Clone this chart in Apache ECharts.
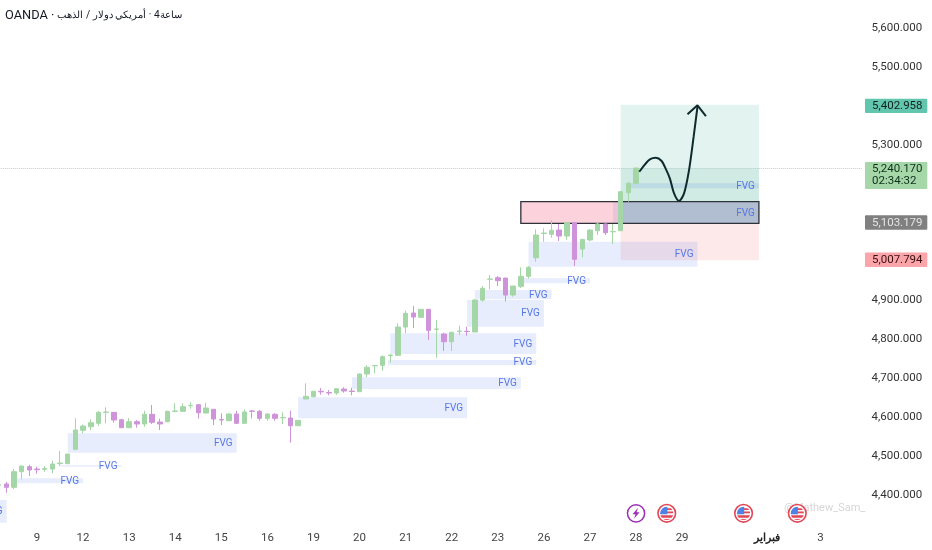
<!DOCTYPE html>
<html>
<head>
<meta charset="utf-8">
<style>html,body{margin:0;padding:0;background:#fff}#c{width:932px;height:550px}</style>
<script src="https://cdn.jsdelivr.net/npm/echarts@6/dist/echarts.min.js"></script>
</head>
<body>
<div id="c"></div>
<script>
// [open, close, low, high]
const candles = [
[4425,4426.5,4420.6,4429.6],[4428.3,4419.8,4405.9,4434.2],[4419.8,4459.9,4415.5,4466.8],[4459.9,4474.6,4440.4,4474.6],
[4472.8,4464.3,4448.9,4477.9],[4466.8,4465.1,4454.8,4472.8],[4466.1,4468.1,4459.9,4474.6],[4466.8,4479.7,4455.8,4488.2],
[4480.7,4482.3,4474.6,4513.1],[4480.5,4505.4,4480.5,4505.4],[4517.5,4567.1,4515.7,4597.1],[4566.3,4577.3,4558.6,4580.7],
[4575.5,4585.8,4567.1,4594.5],[4584.3,4612.5,4577.3,4615.9],[4612.5,4613.3,4584.3,4625.4],[4612.5,4592.8,4585.8,4613.3],
[4593.5,4573,4573,4596.1],[4573,4588.4,4573,4597.9],[4588.4,4582.5,4573,4592.8],[4582.5,4607.4,4575.5,4616.6],
[4607.4,4586.8,4582.5,4631.3],[4587.6,4582.5,4567.1,4596.1],[4588.4,4615.1,4586.8,4616.6],[4615.1,4615.9,4612.5,4635.7],
[4615.1,4626.9,4615.1,4635.7],[4629.5,4630.5,4621.8,4638.2],[4632.1,4611.5,4596.1,4633.9],[4610.7,4623.6,4610.7,4637.2],
[4620.2,4595.3,4579.9,4620.2],[4594,4592.8,4579.9,4610],[4591,4608.2,4591,4610],[4608.2,4584.3,4582.5,4616.6],
[4584.3,4613.3,4582.5,4620.2],[4615.9,4615.1,4597.1,4618.4],[4615.1,4597.1,4591,4618.4],[4597.1,4608.2,4591,4610],
[4607.4,4597.1,4591,4610],[4598.4,4599.1,4582.5,4612.5],[4597.9,4578.1,4534.4,4616.6],[4578.1,4592,4578.1,4592],
[4646.7,4653.6,4646.7,4687],[4652.6,4666.5,4651.1,4668],[4666.5,4665.2,4657.8,4675],[4663.4,4662.1,4656.2,4669.8],
[4662.1,4673.2,4657.8,4673.2],[4672.4,4667.3,4662.9,4676.8],[4667.3,4666,4656.2,4675.7],[4665.5,4710.9,4665.5,4711.7],
[4710.9,4728.2,4702.5,4733.3],[4732,4732.8,4712.7,4734.1],[4733.3,4755.4,4719.4,4759],[4758.5,4759.8,4740,4762.3],
[4759,4831.7,4757.2,4841.2],[4831.7,4866.9,4815.5,4873.6],[4867.7,4857.4,4829.1,4885.7],[4856.6,4877.2,4854.8,4878],
[4877.2,4823.2,4798.3,4877.2],[4825.8,4826.6,4752.8,4849.7],[4813.7,4793.9,4770,4817.1],[4793.9,4818.1,4770,4819.6],
[4820.1,4821.4,4811.2,4835],[4820.7,4820.1,4809.4,4832.5],[4818.9,4901.1,4818.9,4903.6],[4901.1,4931.1,4896.7,4937.1],
[4954.3,4955,4928.6,4965.3],[4958.4,4950.7,4937.1,4962.7],[4957.6,4913.9,4897.7,4957.6],[4913.9,4937.1,4909.6,4937.1],
[4936.3,4962,4931.9,4985.1],[4962,4985.1,4955.8,4988.4],[5009.8,5068.1,4999.5,5082.7],[5071.9,5073.2,5050.9,5085.3],
[5069.9,5080.2,5061.1,5106.6],[5080.9,5065.5,5052.7,5096.4],[5065.5,5099.7,5055.2,5101.5],[5099.7,5005.6,4988.4,5101.5],
[5032.1,5057,5010.8,5057.8],[5055.2,5080.9,5051.9,5082.7],[5079.1,5096.4,5068.1,5099.7],[5096.4,5074,5068.1,5098.2],
[5076.3,5077.1,5045,5096.4],[5079.1,5179.3,5078.4,5181.1],[5176.8,5200.9,5153.7,5204.3],[5200.9,5240.17,5199.1,5241]
];
const slotCount = 113;
const tickIndex = [5,11,17,23,29,35,41,47,53,59,65,71,77,83,89,100,107];
const tickLabels = ['9','12','13','14','15','16','19','20','21','22','23','26','27','28','29','فبراير','3'];
const priceHidden = [4300,5000,5100,5200,5400,5700];
const currentPrice = 5240.17;
// [barFrom, barTo, priceTop, priceBottom]
const fvgBoxes = [
[-1,1.05,4387.2,4328.9],[2,11,4443,4430.1],[8,16,4476.4,4472.8],[9,31,4558.6,4508.8],
[39,61,4651.1,4597.1],[46,68,4702.5,4672.4],[50.7,70,4747,4734.1],[51,70,4815.5,4762.3],
[61,71,4901.1,4832.5],[62,72,4926.8,4902.8],[68,77,4956.8,4944],[69,91,5050.9,4986.6],
[82,99,5200.9,5188],[80,99,5153.7,5098.2]
];
const targetZone = [[81,99,5402.958,currentPrice],[81,99,currentPrice,5103.179]];
const stopZone = [[81,99,5103.179,5003.5]];
const supplyZone = [[68,81,5153.7,5098.2],[81,99,5153.7,5098.2]];
const supplyFrame = [[68,99,5153.7,5098.2]];
const curvePoints = [[83.42,5230.7],[84.2,5250.5],[84.8,5262.6],[85.56,5266.7],[86.3,5259],[86.9,5236.9],[87.4,5213.8],[87.95,5175.2],[88.6,5155.5],[89.25,5175.2],[89.9,5235],[90.5,5320.7],[91,5397.7]];
const arrowPoints = [[89.7,5378.2],[91,5401.3],[92.1,5373.8]];
const tagPrices = [5402.958,5240.17,5103.179,5007.794];
const tagTexts = ['5,402.958','5,240.170','5,103.179','5,007.794'];
const tagSub = ['','02:34:32','',''];
const tagFill = ['#62c6ae','#a6d7a8','#808080','#fba4a9'];
const tagInk = ['#10201c','#10301a','#e4e4e4','#3a1012'];
const eventIdx = [83,87,97,104];
const eventKind = ['bolt','flag','flag','flag'];
const eventPrice = 4353;

const chart = echarts.init(document.getElementById('c'), null, {renderer:'canvas'});
const FONT = 'Roboto, "Noto Sans", sans-serif';

function rectRender(colorOf, stroke) {
  return function (params, api) {
    const a = api.coord([api.value(0), api.value(2)]);
    const b = api.coord([api.value(1), api.value(3)]);
    const el = {type:'rect', shape:{x:a[0], y:a[1], width:b[0]-a[0], height:b[1]-a[1]},
      style:{fill: colorOf(params.dataIndex), stroke: stroke||null, lineWidth: stroke?1.3:0}};
    return el;
  };
}
function boxSeries(name, data, colorOf, z, stroke) {
  return {name, type:'custom', xAxisIndex:1, yAxisIndex:0, z, silent:true, clip:false,
    encode:{x:[0,1], y:[2,3]}, data, renderItem:rectRender(colorOf, stroke)};
}
function tickFormatter(v){ return priceHidden.includes(+v) ? '' : (+v).toLocaleString('en-US',{minimumFractionDigits:3,maximumFractionDigits:3}); }

const categories = Array.from({length:slotCount},(_, i)=>{ const t=tickIndex.indexOf(i); return t>=0?tickLabels[t]:''; });

chart.setOption({
  animation:false,
  backgroundColor:'#ffffff',
  title:{text:'{a|OANDA · }{b|الذهب}{b| / }{b|دولار}{b| }{b|أمريكي}{b| · 4ساعة}', left:0, top:4,
    textStyle:{fontWeight:'normal', rich:{a:{fontFamily:FONT, fontWeight:'normal', fontSize:12.8, color:'#131722'}, b:{fontFamily:FONT, fontWeight:'normal', fontSize:10.2, color:'#131722'}}}},
  grid:{left:-5.24, width:867.84, top:-10.92, height:544.88, containLabel:false, outerBoundsMode:'none'},
  xAxis:[
    {type:'category', data:categories, boundaryGap:true, axisLine:{show:false}, axisTick:{show:false}, splitLine:{show:false},
      axisLabel:{interval:(i)=>tickIndex.includes(i), margin:-2, fontFamily:FONT, fontSize:11.5, color:'#444',
        hideOverlap:false,
        formatter:(v)=>v==='فبراير'?'{b|'+v+'}':v, rich:{b:{fontWeight:'bold', color:'#222', fontFamily:'"Noto Sans", sans-serif', fontSize:11}}}},
    {type:'value', min:-0.5, max:slotCount-0.5, show:false, splitLine:{show:false}}
  ],
  yAxis:{type:'value', position:'right', min:4300, max:5700, interval:100, scale:false,
    axisLine:{show:false}, axisTick:{show:false}, splitLine:{show:false},
    axisLabel:{margin:9, padding:[2,0,0,0], fontFamily:FONT, fontSize:11.5, color:'#333', formatter:tickFormatter, showMinLabel:true, showMaxLabel:true}},
  graphic:[{type:'text', left:784, top:503, z:1, silent:true,
    style:{text:'@Mathew_Sam_', fontFamily:FONT, fontSize:11, fill:'#d6d6d6'}}],
  series:[
    boxSeries('target', targetZone, (i)=>i===0?'rgba(38,166,134,0.13)':'rgba(38,166,134,0.22)', 1),
    boxSeries('stop', stopZone, ()=>'rgba(244,70,80,0.12)', 1),
    {name:'fvg', type:'custom', xAxisIndex:1, yAxisIndex:0, z:2, silent:true, clip:false, encode:{x:[0,1], y:[2,3]}, data:fvgBoxes,
      renderItem(params, api){
        const a = api.coord([api.value(0), api.value(2)]);
        const b = api.coord([api.value(1), api.value(3)]);
        return {type:'rect', shape:{x:a[0], y:a[1], width:b[0]-a[0], height:Math.max(b[1]-a[1],1)},
          style:{fill:'rgba(58,104,235,0.12)'}};
      }},
    boxSeries('supply', supplyZone, (i)=>i===0?'rgba(244,60,110,0.23)':'rgba(175,185,205,0.9)', 3),
    boxSeries('frame', supplyFrame, ()=>'rgba(0,0,0,0)', 4, '#2f3238'),
    {name:'fvgLabels', type:'custom', xAxisIndex:1, yAxisIndex:0, z:5, silent:true, clip:false, encode:{x:[0,1], y:[2,3]}, data:fvgBoxes,
      renderItem(params, api){
        const a = api.coord([api.value(1), (api.value(2)+api.value(3))/2]);
        return {type:'text', style:{x:a[0]-4, y:a[1]+0.5, text:'FVG', fill:'#5676e6', font:'10px '+FONT, textAlign:'right', textVerticalAlign:'middle'}};
      }},
    {name:'price', type:'candlestick', xAxisIndex:0, yAxisIndex:0, z:6, barWidth:5, data:candles,
      itemStyle:{color:'#a5d6a7', color0:'#ce93d8', borderColor:'#a5d6a7', borderColor0:'#ce93d8', borderWidth:1},
      markLine:{silent:true, symbol:'none', label:{show:false}, animation:false, data:[{yAxis:currentPrice}],
        lineStyle:{color:'#c4c8d0', type:'dotted', width:1}}},
    {name:'curve', type:'line', xAxisIndex:1, yAxisIndex:0, z:7, data:curvePoints, smooth:0.3, symbol:'none', silent:true,
      lineStyle:{color:'#0e2a2c', width:2}},
    {name:'arrow', type:'line', xAxisIndex:1, yAxisIndex:0, z:7, data:arrowPoints, symbol:'none', silent:true,
      lineStyle:{color:'#0e2a2c', width:2}},
    {name:'events', type:'custom', xAxisIndex:0, yAxisIndex:0, z:8, silent:true, clip:false, encode:{x:0, y:1},
      data:eventIdx.map((i)=>[i,eventPrice]),
      renderItem(params, api){
        const p = api.coord([api.value(0), api.value(1)]);
        if (eventKind[params.dataIndex]==='bolt') {
          return {type:'group', x:p[0], y:p[1], children:[
            {type:'circle', shape:{cx:0,cy:0,r:8.6}, style:{fill:'#fff', stroke:'#9c2fb5', lineWidth:1.5}},
            {type:'polygon', shape:{points:[[2,-5.5],[-3.5,1],[-0.5,1],[-2,5.5],[3.5,-1],[0.5,-1]]}, style:{fill:'#9c2fb5'}}
          ]};
        }
        const clip = {type:'circle', shape:{cx:0,cy:0,r:6.6}};
        return {type:'group', x:p[0], y:p[1], children:[
          {type:'circle', shape:{cx:0,cy:0,r:8.8}, style:{fill:'#fff', stroke:'#e34755', lineWidth:1.6}},
          {type:'group', clipPath:clip, children:[
            {type:'rect', shape:{x:-7,y:-7,width:14,height:14}, style:{fill:'#f4f4f6'}},
            {type:'rect', shape:{x:0,y:-5.2,width:7,height:1.8}, style:{fill:'#e34755'}},
            {type:'rect', shape:{x:0,y:-1.8,width:7,height:1.8}, style:{fill:'#e34755'}},
            {type:'rect', shape:{x:-7,y:2,width:14,height:2.4}, style:{fill:'#e34755'}},
            {type:'rect', shape:{x:-7,y:5.6,width:14,height:2}, style:{fill:'#e34755'}},
            {type:'rect', shape:{x:-7,y:-7,width:7.6,height:8}, style:{fill:'#4d82e6'}}
          ]}
        ]};
      }},
    {name:'tags', type:'custom', xAxisIndex:1, yAxisIndex:0, z:9, silent:true, clip:false, encode:{y:0},
      data:tagPrices.map((v)=>[v]),
      renderItem(params, api){
        const i = params.dataIndex;
        const y = api.coord([0, api.value(0)])[1];
        const two = !!tagSub[i];
        const top = y - 6.5 + 0.5, h = two ? 27 : 14.4;
        const kids = [{type:'rect', shape:{x:865, y:top, width:62.3, height:h, r:1}, style:{fill:tagFill[i]}},
          {type:'text', style:{x:872, y:top+7.3, text:tagTexts[i], fill:tagInk[i], font:'11.5px '+FONT, textVerticalAlign:'middle'}}];
        if (two) kids.push({type:'text', style:{x:872, y:top+19.5, text:tagSub[i], fill:tagInk[i], font:'11.5px '+FONT, textVerticalAlign:'middle'}});
        return {type:'group', children:kids};
      }}
  ]
});
</script>
</body>
</html>
